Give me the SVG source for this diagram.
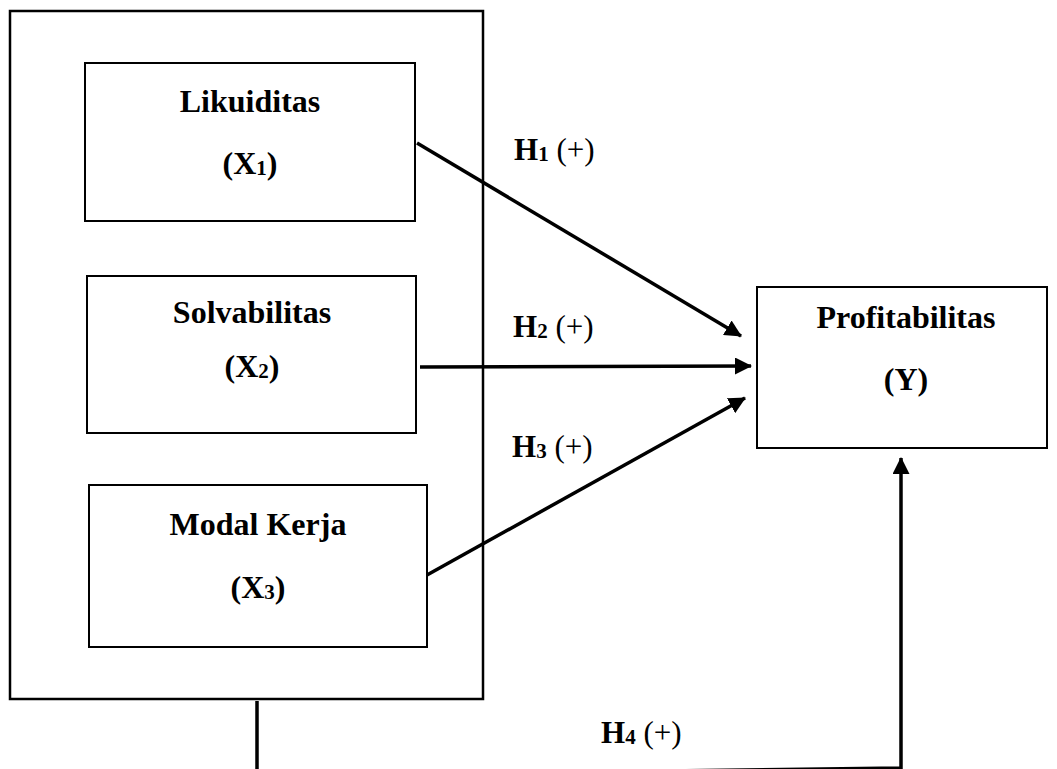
<svg xmlns="http://www.w3.org/2000/svg" width="1057" height="769" viewBox="0 0 1057 769">
  <style>
    .box { fill: #ffffff; stroke: #000000; stroke-width: 2; }
    .outer { fill: none; stroke: #000000; stroke-width: 2.5; }
    .t { font-family: "Liberation Serif", "Times New Roman", serif; font-weight: bold; font-size: 32px; fill: #000; text-anchor: middle; }
    .sub { font-size: 21px; }
    .lab { font-family: "Liberation Serif", "Times New Roman", serif; font-size: 31px; fill: #000; }
    .lab .h { font-weight: bold; }
    .conn { fill: none; stroke: #000; stroke-width: 3.5; }
  </style>
  <defs>
    <marker id="ah" markerUnits="userSpaceOnUse" markerWidth="17" markerHeight="17" viewBox="0 0 17 17" refX="16" refY="8.5" orient="auto">
      <path d="M0,0 L17,8.5 L0,17 z" fill="#000"/>
    </marker>
  </defs>
  <rect width="1057" height="769" fill="#ffffff"/>

  <g id="independen">
    <rect class="outer" x="10" y="11" width="473" height="688"/>
  </g>

  <g id="likuiditas">
    <rect class="box" x="85" y="63" width="330" height="158"/>
    <text class="t" x="250" y="112">Likuiditas</text>
    <text class="t" x="250" y="174">(X<tspan class="sub" dy="1">1</tspan><tspan dy="-1">)</tspan></text>
  </g>

  <g id="solvabilitas">
    <rect class="box" x="87" y="276" width="329" height="157"/>
    <text class="t" x="252" y="323">Solvabilitas</text>
    <text class="t" x="252" y="377">(X<tspan class="sub" dy="1">2</tspan><tspan dy="-1">)</tspan></text>
  </g>

  <g id="modal-kerja">
    <rect class="box" x="89" y="485" width="338" height="162"/>
    <text class="t" x="258" y="535">Modal Kerja</text>
    <text class="t" x="258" y="598">(X<tspan class="sub" dy="1">3</tspan><tspan dy="-1">)</tspan></text>
  </g>

  <g id="profitabilitas">
    <rect class="box" x="757" y="287" width="290" height="161"/>
    <text class="t" x="906" y="328">Profitabilitas</text>
    <text class="t" x="906" y="390">(Y)</text>
  </g>

  <g id="connectors">
    <line class="conn" x1="417" y1="143" x2="741" y2="336" marker-end="url(#ah)"/>
    <line class="conn" x1="420" y1="367" x2="751" y2="366" marker-end="url(#ah)"/>
    <line class="conn" x1="427" y1="575" x2="745" y2="398" marker-end="url(#ah)"/>
    <polyline class="conn" points="257,701 257,773 627,771.5 901,768 901,458" marker-end="url(#ah)"/>
  </g>

  <g id="labels">
    <text class="lab" x="514" y="160"><tspan class="h">H</tspan><tspan class="h" font-size="21" dy="1">1</tspan><tspan dy="-1"> (+)</tspan></text>
    <text class="lab" x="513" y="337"><tspan class="h">H</tspan><tspan class="h" font-size="21" dy="1">2</tspan><tspan dy="-1"> (+)</tspan></text>
    <text class="lab" x="512" y="457"><tspan class="h">H</tspan><tspan class="h" font-size="21" dy="1">3</tspan><tspan dy="-1"> (+)</tspan></text>
    <text class="lab" x="601" y="743"><tspan class="h">H</tspan><tspan class="h" font-size="21" dy="1">4</tspan><tspan dy="-1"> (+)</tspan></text>
  </g>
</svg>
